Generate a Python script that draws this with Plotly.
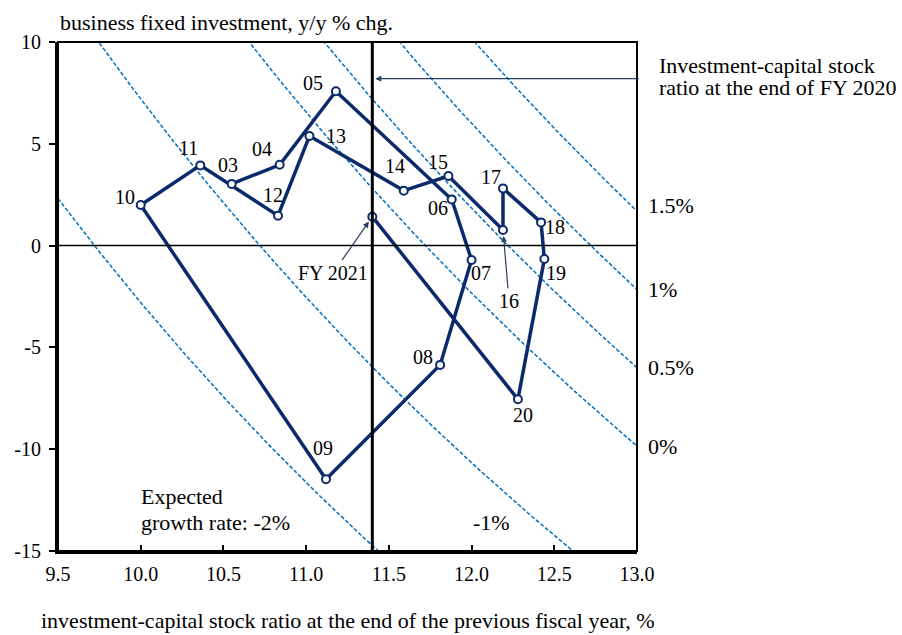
import numpy as np
import plotly.graph_objects as go

# fiscal years and their points (x: I/K ratio at end of previous FY, y: investment growth)
years = ["03", "04", "05", "06", "07", "08", "09", "10", "11", "12",
         "13", "14", "15", "16", "17", "18", "19", "20", "FY 2021"]
ik_ratio = [10.55, 10.84, 11.18, 11.88, 12.00, 11.81, 11.12, 10.00, 10.36, 10.83,
            11.02, 11.59, 11.86, 12.19, 12.19, 12.42, 12.44, 12.28, 11.40]
inv_growth = [3.03, 3.97, 7.58, 2.27, -0.71, -5.86, -11.48, 1.99, 3.94, 1.47,
              5.38, 2.70, 3.42, 0.77, 2.81, 1.14, -0.66, -7.55, 1.42]

# iso expected-growth curves: growth + depreciation = (1 + y/100) * x
expected_growth = [-2.0, -1.0, 0.0, 0.5, 1.0, 1.5]
depreciation = 11.72
fy2020_ratio = 11.40

x_ticks = [9.5, 10.0, 10.5, 11.0, 11.5, 12.0, 12.5, 13.0]
y_ticks = [-15, -10, -5, 0, 5, 10]

NAVY = "#0B2A6B"
BLUE = "#0070C0"
FONT = "Liberation Serif, Times New Roman, serif"

fig = go.Figure()

xs = np.linspace(9.5, 13.0, 300)
for g in expected_growth:
    fig.add_trace(go.Scatter(
        x=xs, y=100 * ((g + depreciation) / xs - 1), mode="lines",
        line=dict(color=BLUE, width=1.5, dash="4px,2px"), hoverinfo="skip"))

# zero line and FY2020 vertical line
fig.add_hline(y=0, line=dict(color="black", width=1.5))
fig.add_vline(x=fy2020_ratio, line=dict(color="black", width=3))

fig.add_trace(go.Scatter(
    x=ik_ratio, y=inv_growth, mode="lines+markers",
    line=dict(color=NAVY, width=3.5),
    marker=dict(size=8, color="white", line=dict(color=NAVY, width=2)),
    cliponaxis=False))

# point labels (pixel offsets)
offsets = {"03": (-4, 19), "04": (-18, 16), "05": (-23, 8), "06": (-14, -9),
           "07": (9, -13), "08": (-17, 8), "09": (-3, 31), "10": (-16, 8),
           "11": (-12, 17), "12": (-5, 21), "13": (27, 0), "14": (-9, 25),
           "15": (-10, 14), "17": (-12, 11), "18": (14, -5), "19": (12, -14),
           "20": (5, -16)}
for yr, x, y in zip(years, ik_ratio, inv_growth):
    if yr in offsets:
        dx, dy = offsets[yr]
        fig.add_annotation(x=x, y=y, text=yr, showarrow=False, xshift=dx, yshift=dy,
                           font=dict(size=20))

# arrow labels
i16 = years.index("16")
fig.add_annotation(x=ik_ratio[i16], y=inv_growth[i16], text="16", ax=6, ay=71,
                   arrowhead=2, arrowsize=1, arrowwidth=1.2, standoff=6, font=dict(size=20))
i21 = years.index("FY 2021")
fig.add_annotation(x=ik_ratio[i21], y=inv_growth[i21], text="FY 2021", ax=-39, ay=56,
                   arrowhead=2, arrowsize=1, arrowwidth=1.2, standoff=6, font=dict(size=20))
fig.add_annotation(x=fy2020_ratio, y=8.2, text="", axref="pixel", ax=268, ay=0,
                   arrowhead=2, arrowsize=1, arrowwidth=1.2, standoff=3)
for txt, yy in [("Investment-capital stock", 8.85), ("ratio at the end of FY 2020", 7.75)]:
    fig.add_annotation(xref="paper", x=1.035, y=yy, xanchor="left", text=txt,
                       showarrow=False, font=dict(size=22))

# growth-rate labels on the right
for g, yy in zip(expected_growth[2:], [-9.88, -6.0, -2.18, 1.99]):
    fig.add_annotation(xref="paper", x=1.016, y=yy, xanchor="left", text=f"{g:g}%",
                       showarrow=False, font=dict(size=22))
fig.add_annotation(x=12.12, y=-13.58, text="-1%", showarrow=False, font=dict(size=22))
for txt, yy in [("Expected", -12.32), ("growth rate: -2%", -13.6)]:
    fig.add_annotation(x=9.99, y=yy, text=txt, showarrow=False, xanchor="left",
                       font=dict(size=22))

# axis titles
fig.add_annotation(xref="paper", yref="paper", x=0, y=1, xanchor="left", yanchor="middle",
                   yshift=20, text="business fixed investment, y/y % chg.", showarrow=False,
                   font=dict(size=22))
fig.add_annotation(xref="paper", yref="paper", x=0.5, y=0, yanchor="middle", yshift=-69,
                   text="investment-capital stock ratio at the end of the previous fiscal year, %",
                   showarrow=False, font=dict(size=22))

fig.update_xaxes(range=[9.5, 13.0], tickvals=x_ticks, ticktext=[f"{v:.1f}" for v in x_ticks],
                 showgrid=False, zeroline=False, showline=True, linecolor="black", linewidth=3,
                 ticks="inside", ticklen=6, tickcolor="black", tickwidth=1.5,
                 tickfont=dict(size=20), ticklabelstandoff=3)
fig.update_yaxes(range=[-15, 10], tickvals=y_ticks, ticktext=[str(v) for v in y_ticks],
                 showgrid=False, zeroline=False, showline=True, linecolor="black", linewidth=3,
                 ticks="outside", ticklen=6, tickcolor="black", tickwidth=1.5,
                 tickfont=dict(size=20), ticklabelstandoff=4)
fig.add_shape(type="rect", xref="paper", yref="paper", x0=0, y0=0, x1=1, y1=1,
              line=dict(color="black", width=2))

fig.update_layout(
    width=902, height=635, showlegend=False,
    margin=dict(l=58, r=265, t=42, b=84),
    paper_bgcolor="white", plot_bgcolor="white",
    font=dict(family=FONT, size=20, color="black"),
)

# drop the default page margin so the figure fills the window exactly
fig.write_html("out.html", config={"displayModeBar": False},
               post_script="document.body.style.margin='0';document.body.style.overflow='hidden';")
